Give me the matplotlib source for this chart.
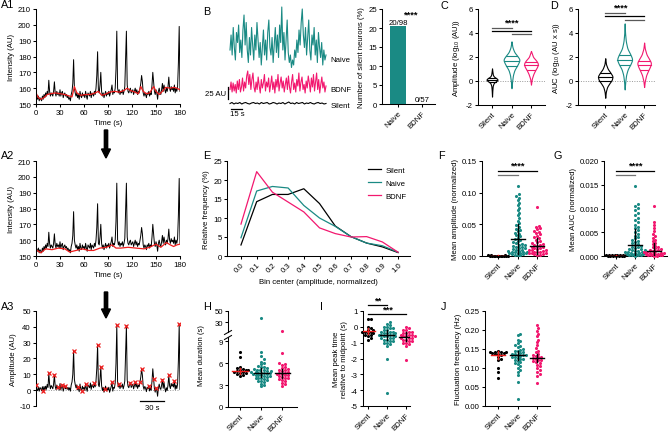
import numpy as np
import matplotlib
matplotlib.use("Agg")
import matplotlib.pyplot as plt
from matplotlib.patches import FancyArrow
from matplotlib.lines import Line2D
from matplotlib.transforms import IdentityTransform

FS = 5.6
plt.rcParams['font.family'] = ['Liberation Sans', 'DejaVu Sans']
plt.rcParams['mathtext.fontset'] = 'custom'
plt.rcParams['mathtext.rm'] = 'Liberation Sans'
plt.rcParams['axes.unicode_minus'] = False
plt.rcParams['font.size'] = FS
plt.rcParams['axes.linewidth'] = 0.75

TEAL = "#1a8a84"
PINK = "#f2186f"
RED = "#ee1c1c"

groups = ["Silent", "Naive", "BDNF"]
group_colors = ["black", TEAL, PINK]

# ---- A: example trace (1 sample / s) ----
trace_a = [157, 154, 153, 155, 152, 154, 153, 152, 155, 153,
           156, 154, 157, 155, 158, 156, 165, 158, 155, 157,
           156, 155, 158, 164, 157, 155, 158, 156, 157, 155,
           159, 155, 157, 158, 154, 156, 157, 155, 156, 154,
           155, 153, 154, 152, 156, 158, 163, 178, 160, 157,
           155, 157, 154, 156, 153, 158, 155, 154, 157, 155,
           156, 154, 158, 155, 153, 157, 156, 155, 158, 154,
           157, 156, 155, 158, 156, 160, 168, 183, 158, 157,
           162, 170, 158, 155, 157, 154, 156, 158, 155, 157,
           156, 158, 155, 157, 159, 162, 156, 158, 157, 160,
           172, 196, 160, 157, 159, 156, 158, 157, 159, 156,
           158, 161, 178, 196, 162, 158, 157, 159, 160, 157,
           158, 159, 156, 158, 160, 157, 159, 156, 158, 157,
           160, 163, 168, 164, 157, 155, 157, 156, 154, 157,
           156, 158, 155, 157, 156, 162, 170, 164, 158, 156,
           159, 157, 153, 158, 160, 157, 156, 159, 163, 158,
           162, 159, 157, 160, 158, 161, 167, 160, 158, 161,
           159, 160, 158, 162, 157, 160, 158, 161, 176, 199,
           158]
smooth_t = [0, 3, 6, 10, 14, 18, 24, 30, 36, 42, 45, 48, 51, 56, 62, 68, 74, 78, 82, 86,
            92, 98, 104, 110, 114, 118, 124, 128, 131, 134, 138, 142, 147, 150, 154, 158,
            162, 168, 172, 176, 180]
smooth_v = [157, 154, 153, 154, 156, 156.5, 157, 156.5, 156, 155, 154.5, 161, 157, 155.5,
            156, 156, 157, 158, 155.5, 156, 157.5, 158, 157.5, 158.5, 160, 158.5, 157.5,
            156.5, 161, 158, 156.5, 157, 161, 158, 156, 158, 160.5, 160, 160.5, 160, 159]
base_t = [0, 6, 12, 20, 28, 36, 42, 50, 58, 66, 72, 80, 88, 95, 100, 106, 115, 125, 135,
          142, 150, 156, 163, 168, 172, 176, 180]
base_v = [154, 152, 154.5, 154, 155, 154.5, 152.5, 153.5, 154.5, 153.5, 153.5, 155, 155.5,
          157, 155, 155, 155.5, 155, 154.5, 155.5, 157.5, 155.5, 158.5, 157, 156, 157, 157.5]
peak_t = [0, 9, 16, 23, 28, 33, 36, 47, 53, 57, 62, 73, 77, 81, 86, 95, 101, 104, 113,
          118, 124, 130, 132, 141, 147, 150, 158, 166, 173, 179]

# ---- B: example traces and silent fraction ----
trace_naive = [40, 70, 30, 85, 45, 20, 75, 55, 90, 35, 60, 25, 80, 110, 50, 95, 40, 15, 65, 30,
               85, 50, 20, 70, 40, 95, 60, 25, 55, 10, 45, 80, 30, 60, 20, 75, 100, 45, 30, 65,
               15, 50, 85, 35, 70, 25, 90, 55, 126, 40, 75, 20, 60, 100, 35, 15, 30, 5, 20, 10,
               40, 25, 60, 35, 80, 50, 95, 122, 70, 45, 85, 30, 65, 100, 40, 20, 70, 50, 85, 30,
               60, 15, 75, 45, 25, 55, 10, 40, 20, 30]
trace_bdnf = [15, 30, 10, 28, 12, 25, 8, 32, 15, 35, 10, 20, 38, 12, 30, 18, 42, 52, 25, 45,
              15, 35, 48, 20, 10, 30, 15, 40, 22, 8, 35, 18, 28, 45, 12, 30, 20, 38, 10, 25,
              42, 15, 30, 8, 35, 20, 45, 12, 28, 40, 18, 32, 10, 25, 38, 15, 42, 20, 8, 30,
              45, 15, 28, 10, 35, 22, 48, 12, 30, 40, 15, 25, 8, 32, 18, 42, 28, 10, 38, 20,
              45, 12, 30, 48, 15, 35, 8, 25, 40, 18, 30, 10, 22]
trace_silent = [1, 3, 0, 2, 1, 3, 0, 2, 3, 1, 0, 2, 3, 1, 2, 0, 3, 1, 2, 3, 0, 1, 3, 2, 0,
                2, 1, 3, 0, 2, 4, 1, 2, 0, 3, 1, 2, 3, 0, 2, 1, 3, 1, 0, 2, 3, 1, 2, 0, 1]
silent_pct = [20.4, 0.0]
silent_frac = ["20/98", "0/57"]

# ---- C, D: violin profiles (log10 values, relative density) ----
amp_y = [[-1.3, -0.8, -0.4, -0.15, 0.0, 0.1, 0.2, 0.35, 0.5, 0.8, 1.05],
         [-0.6, 0.0, 0.5, 0.9, 1.2, 1.5, 1.8, 2.1, 2.4, 2.8, 3.3],
         [-0.3, 0.2, 0.6, 0.9, 1.2, 1.45, 1.7, 2.0, 2.5]]
amp_w = [[0.0, 0.05, 0.12, 0.3, 0.75, 1.0, 0.85, 0.35, 0.15, 0.06, 0.0],
         [0.0, 0.08, 0.18, 0.35, 0.6, 0.85, 1.0, 0.7, 0.35, 0.12, 0.0],
         [0.0, 0.12, 0.35, 0.6, 0.9, 1.0, 0.75, 0.3, 0.0]]
amp_q = [[-0.05, 0.1, 0.25], [1.25, 1.7, 2.1], [0.9, 1.3, 1.6]]
auc_y = [[-1.4, -0.9, -0.5, -0.2, 0.1, 0.4, 0.7, 1.0, 1.4, 1.9],
         [-0.7, -0.1, 0.5, 1.0, 1.4, 1.8, 2.2, 2.7, 3.3, 4.0, 4.8],
         [-0.5, 0.0, 0.5, 0.9, 1.2, 1.5, 1.8, 2.2, 2.7, 3.2]]
auc_w = [[0.0, 0.08, 0.25, 0.55, 0.9, 1.0, 0.7, 0.35, 0.1, 0.0],
         [0.0, 0.07, 0.18, 0.4, 0.75, 1.0, 0.75, 0.35, 0.15, 0.05, 0.0],
         [0.0, 0.1, 0.3, 0.6, 0.85, 1.0, 0.75, 0.35, 0.1, 0.0]]
auc_q = [[0.0, 0.35, 0.7], [1.3, 1.75, 2.2], [0.9, 1.35, 1.7]]

# ---- E: amplitude histograms ----
bin_center = [0.0, 0.1, 0.2, 0.3, 0.4, 0.5, 0.6, 0.7, 0.8, 0.9, 1.0]
freq_silent = [2.9, 14.3, 16.2, 16.2, 17.7, 13.8, 7.9, 5.1, 3.4, 2.4, 0.9]
freq_naive = [4.8, 17.1, 18.3, 17.9, 13.3, 10.0, 7.8, 5.1, 3.4, 2.7, 1.0]
freq_bdnf = [8.4, 22.2, 16.8, 14.2, 11.6, 7.4, 5.9, 5.0, 5.1, 3.7, 1.0]

# ---- F: mean amplitude ----
f_silent = [0.0003, 0.0005, 0.0002, 0.0008, 0.0004, 0.0006, 0.0003, 0.0010, 0.0005, 0.0002,
            0.0007, 0.0004, 0.0006, 0.0009, 0.0003]
f_naive = [0.001, 0.002, 0.002, 0.003, 0.003, 0.004, 0.004, 0.005, 0.005, 0.006, 0.006, 0.007,
           0.007, 0.008, 0.008, 0.009, 0.010, 0.011, 0.012, 0.013, 0.014, 0.015, 0.016, 0.017,
           0.018, 0.019, 0.020, 0.022, 0.024, 0.025, 0.027, 0.029, 0.031, 0.033, 0.035, 0.037,
           0.039, 0.041, 0.043, 0.046, 0.049, 0.052, 0.056, 0.060, 0.064, 0.068, 0.072, 0.076,
           0.080, 0.084, 0.088, 0.092, 0.095, 0.098, 0.110]
f_bdnf = [0.001, 0.002, 0.003, 0.003, 0.004, 0.005, 0.005, 0.006, 0.007, 0.007, 0.008, 0.009,
          0.010, 0.010, 0.011, 0.012, 0.013, 0.014, 0.015, 0.016, 0.017, 0.018, 0.019, 0.020,
          0.022, 0.024, 0.026, 0.028, 0.030, 0.032, 0.034, 0.036, 0.038, 0.040, 0.042, 0.044,
          0.046, 0.048, 0.077]
f_mean = [0.0005, 0.027, 0.016]
f_sd = [0.0003, 0.024, 0.013]

# ---- G: mean AUC ----
g_silent = [0.00005, 0.0001, 0.00008, 0.00015, 0.00012, 0.0002, 0.0001, 0.00006, 0.00018,
            0.00009, 0.00025, 0.00011, 0.00007, 0.00014, 0.0003]
g_naive = [0.0001, 0.0002, 0.0002, 0.0003, 0.0003, 0.0004, 0.0004, 0.0005, 0.0005, 0.0006,
           0.0006, 0.0007, 0.0008, 0.0008, 0.0009, 0.0010, 0.0011, 0.0012, 0.0013, 0.0014,
           0.0015, 0.0016, 0.0018, 0.0019, 0.0021, 0.0023, 0.0025, 0.0027, 0.0029, 0.0031,
           0.0034, 0.0037, 0.0040, 0.0043, 0.0046, 0.0050, 0.0054, 0.0058, 0.0062, 0.0066,
           0.0071, 0.0076, 0.0081, 0.0086, 0.0091, 0.0096, 0.0101, 0.0106, 0.0110, 0.0148]
g_bdnf = [0.0001, 0.0001, 0.0002, 0.0002, 0.0003, 0.0003, 0.0004, 0.0004, 0.0005, 0.0005,
          0.0006, 0.0007, 0.0007, 0.0008, 0.0009, 0.0010, 0.0011, 0.0012, 0.0013, 0.0014,
          0.0016, 0.0018, 0.0020, 0.0022, 0.0025, 0.0028, 0.0031, 0.0034, 0.0038, 0.0042,
          0.0046, 0.0052, 0.0058, 0.0065, 0.0072, 0.0105]
g_mean = [0.0001, 0.00225, 0.0011]
g_sd = [0.00008, 0.0034, 0.0017]

# ---- H: mean duration ----
h_silent = [4.2, 4.4, 4.5, 4.6, 4.7, 4.8, 4.8, 4.9, 5.0, 5.0, 5.1, 5.2, 5.3, 5.5, 6.8, 7.5]
h_naive = [2.8, 3.0, 3.2, 3.4, 3.5, 3.6, 3.7, 3.8, 3.9, 4.0, 4.0, 4.1, 4.2, 4.2, 4.3, 4.4,
           4.4, 4.5, 4.5, 4.6, 4.6, 4.7, 4.7, 4.8, 4.8, 4.9, 4.9, 5.0, 5.0, 5.1, 5.2, 5.3,
           5.4, 5.5, 5.6, 5.8, 6.0, 6.2, 6.5, 6.9, 7.5, 37.0]
h_bdnf = [2.9, 3.1, 3.3, 3.5, 3.7, 3.8, 3.9, 4.0, 4.1, 4.2, 4.3, 4.4, 4.5, 4.5, 4.6, 4.7,
          4.8, 4.9, 5.0, 5.1, 5.2, 5.3, 5.5, 5.7, 5.9, 6.0, 7.3, 15.0]
h_mean = [4.9, 4.7, 4.6]
h_sd = [0.4, 0.6, 0.6]

# ---- I: peak time relative to midpoint ----
i_silent = [0.5, 0.5, 0.0, -0.1, -0.2, -0.2, -0.3, -0.3, -0.3, -0.4, -0.4, -0.5, -0.5,
            -0.6, -0.7, -0.8]
i_naive = [0.3, 0.2, 0.1, 0.0, 0.0, -0.1, -0.1, -0.2, -0.2, -0.3, -0.3, -0.3, -0.4, -0.4,
           -0.4, -0.5, -0.5, -0.5, -0.5, -0.6, -0.6, -0.6, -0.7, -0.7, -0.7, -0.8, -0.8,
           -0.9, -0.9, -1.0, -1.0, -1.1, -1.2, -2.0, -4.2]
i_bdnf = [0.0, -0.1, -0.2, -0.2, -0.3, -0.3, -0.4, -0.4, -0.5, -0.5, -0.5, -0.6, -0.6, -0.6,
          -0.7, -0.7, -0.7, -0.8, -0.8, -0.9, -0.9, -1.0, -1.0, -1.1, -1.2, -2.1]
i_mean = [-0.28, -0.5, -0.62]
i_sd = [0.2, 0.3, 0.3]

# ---- J: fluctuation frequency ----
j_silent = [0.145, 0.143, 0.142, 0.141, 0.140, 0.139, 0.138, 0.136, 0.134, 0.130, 0.125,
            0.120, 0.100, 0.090, 0.075, 0.143]
j_naive = [0.190, 0.188, 0.175, 0.170, 0.165, 0.160, 0.157, 0.154, 0.150, 0.148, 0.146,
           0.144, 0.142, 0.140, 0.138, 0.137, 0.135, 0.134, 0.133, 0.132, 0.130, 0.128,
           0.127, 0.125, 0.123, 0.120, 0.118, 0.115, 0.112, 0.110, 0.105, 0.100, 0.095,
           0.090, 0.082, 0.063, 0.018]
j_bdnf = [0.213, 0.205, 0.198, 0.190, 0.183, 0.175, 0.168, 0.160, 0.152, 0.146, 0.142,
          0.138, 0.135, 0.132, 0.130, 0.128, 0.126, 0.124, 0.122, 0.120, 0.118, 0.115,
          0.112, 0.108, 0.104, 0.100, 0.095, 0.090, 0.085, 0.080, 0.060]
j_mean = [0.135, 0.133, 0.127]
j_sd = [0.01, 0.012, 0.01]


W, H = 669, 435
fig = plt.figure(figsize=(W / 100, H / 100), dpi=100)


def px_axes(x0, y0, x1, y1):
    return fig.add_axes([x0 / W, 1 - y1 / H, (x1 - x0) / W, (y1 - y0) / H])


def style(ax):
    for s in ['top', 'right']:
        ax.spines[s].set_visible(False)
    ax.tick_params(length=2.2, width=0.75, pad=1.5, labelsize=FS)


def cat_axis(ax, labels):
    ax.set_xticks(range(len(labels)))
    ax.set_xticklabels(labels, rotation=45, ha='right', rotation_mode='anchor')


def letter(x, y, s):
    fig.text(x / W, 1 - y / H, s, fontsize=7.8, ha='left', va='center')


def swarm_offsets(vals, ypx, d=2.8, maxw=10.0):
    y = np.asarray(vals, dtype=float) * ypx
    steps = [0.0]
    k = 1
    while k * d * 0.5 <= maxw:
        steps += [k * d * 0.5, -k * d * 0.5]
        k += 1
    xs = np.zeros(len(y))
    px, py = [], []
    for i in np.argsort(y):
        best, best_gap = 0.0, -1.0
        for c in steps:
            gap = np.inf if not px else np.min((np.array(px) - c) ** 2 + (np.array(py) - y[i]) ** 2)
            if gap >= d * d:
                best = c
                break
            if gap > best_gap:
                best_gap, best = gap, c
        xs[i] = best
        px.append(best)
        py.append(y[i])
    return xs


def dots(ax, xc, vals, color, ypx, xpx, maxw=10.0):
    off = swarm_offsets(vals, ypx, maxw=maxw) / xpx
    ax.scatter(xc + off, vals, s=5, color=color, lw=0, zorder=3, clip_on=False)


def cross(ax, xc, m, sd, color, hw=0.36):
    ax.plot([xc - hw, xc + hw], [m, m], color=color, lw=1.0, zorder=5)
    ax.plot([xc, xc], [m - sd, m + sd], color=color, lw=1.0, zorder=5)


def violin(ax, xc, ys, ws, half, lines, color):
    yy = np.linspace(ys[0], ys[-1], 200)
    ww = np.interp(yy, ys, ws)
    ww = np.convolve(np.pad(ww, 6, mode='edge'), np.ones(13) / 13, mode='valid') * half
    ax.fill_betweenx(yy, xc - ww, xc + ww, facecolor='white', edgecolor=color, lw=0.8, zorder=3)
    for q in lines:
        w = np.interp(q, yy, ww)
        ax.plot([xc - w, xc + w], [q, q], color=color, lw=0.8, zorder=4)


def sig_line(ax, x0, x1, y, color='black'):
    ax.plot([x0, x1], [y, y], color=color, lw=0.9, clip_on=False)


def stars(ax, x, y, s):
    ax.text(x, y, s, ha='center', va='bottom', fontsize=6.8, fontweight='bold', clip_on=False)


def arrow(x, y0, y1):
    fig.add_artist(FancyArrow(x, H - y0, 0, -(y1 - y0), width=3.3, head_width=9, head_length=9,
                              length_includes_head=True, color='black', transform=IdentityTransform()))


time_a = np.arange(len(trace_a))
amp_a = np.array(trace_a) - np.interp(time_a, base_t, base_v)

# A1
ax = px_axes(36, 10, 180, 105)
style(ax)
ax.plot(time_a, trace_a, color='black', lw=0.7)
ax.plot(smooth_t, smooth_v, color=RED, lw=0.9)
ax.set_xlim(0, 180)
ax.set_ylim(150, 210)
ax.set_xticks(range(0, 181, 30))
ax.set_yticks(range(150, 211, 10))
ax.set_xlabel("Time (s)", labelpad=2)
ax.set_ylabel("Intensity (AU)", labelpad=2)
letter(1, 5, "A1")

# A2
ax = px_axes(36, 162, 180, 257)
style(ax)
ax.plot(time_a, trace_a, color='black', lw=0.7)
ax.plot(base_t, base_v, color=RED, lw=0.9)
ax.set_xlim(0, 180)
ax.set_ylim(150, 210)
ax.set_xticks(range(0, 181, 30))
ax.set_yticks(range(150, 211, 10))
ax.set_xlabel("Time (s)", labelpad=2)
ax.set_ylabel("Intensity (AU)", labelpad=2)
letter(1, 156, "A2")

# A3
ax = px_axes(36, 312, 180, 407)
style(ax)
ax.spines['bottom'].set_visible(False)
ax.set_xticks([])
ax.axhline(0, color='0.6', lw=0.7, ls=(0, (1, 1.5)))
ax.plot(time_a, amp_a, color='black', lw=0.7)
ax.plot(peak_t, amp_a[peak_t], 'x', color=RED, ms=3, mew=0.9, zorder=4)
ax.set_xlim(0, 180)
ax.set_ylim(-10, 50)
ax.set_yticks(range(-10, 51, 10))
ax.set_ylabel("Amplitude (AU)", labelpad=2)
ax.plot([130, 160], [-7, -7], color='black', lw=0.9, clip_on=False)
ax.text(145, -9, "30 s", ha='center', va='top', fontsize=FS)
letter(1, 307, "A3")

arrow(106, 131, 159)
arrow(106, 293, 319)

# B traces
ax = px_axes(226, 4, 330, 112)
ax.axis('off')
ax.set_xlim(-5.5, 137.5)
ax.set_ylim(-14, 202)
ax.plot(np.linspace(0, 132, len(trace_naive)), np.array(trace_naive) + 68, color=TEAL, lw=0.8)
ax.plot(np.linspace(0, 132, len(trace_bdnf)), np.array(trace_bdnf) + 14, color=PINK, lw=0.8)
ax.plot(np.linspace(0, 132, len(trace_silent)), np.array(trace_silent), color='black', lw=0.8)
ax.text(138, 90, "Naive", va='center', fontsize=FS, clip_on=False)
ax.text(138, 30, "BDNF", va='center', fontsize=FS, clip_on=False)
ax.text(138, -2, "Silent", va='center', fontsize=FS, clip_on=False)
ax.plot([-3, -3], [10, 35], color='black', lw=0.9, clip_on=False)
ax.text(-5.5, 22, "25 AU", ha='right', va='center', fontsize=FS)
ax.plot([2, 17], [-9, -9], color='black', lw=0.9, clip_on=False)
ax.text(9.5, -12, "15 s", ha='center', va='top', fontsize=FS)
letter(203, 12, "B")

# B bar
ax = px_axes(382, 10, 435, 105)
style(ax)
ax.bar([0, 1], silent_pct, width=0.7, color=TEAL)
for i, (p, s) in enumerate(zip(silent_pct, silent_frac)):
    ax.text(i, p + 0.2, s, ha='center', va='bottom', fontsize=FS)
stars(ax, 0.5, 22.6, "****")
ax.set_xlim(-0.67, 1.54)
ax.set_ylim(0, 25)
ax.set_yticks(range(0, 26, 5))
cat_axis(ax, ["Naive", "BDNF"])
ax.set_ylabel("Number of silent neurons (%)", labelpad=2)

# C violin
ax = px_axes(478, 10, 545, 106)
style(ax)
ax.axhline(0, color='0.6', lw=0.7, ls=(0, (1, 1.5)))
for i in range(3):
    violin(ax, i, amp_y[i], amp_w[i], [0.3, 0.42, 0.36][i], amp_q[i], group_colors[i])
ax.set_xlim(-0.72, 2.72)
ax.set_ylim(-2, 6)
ax.set_yticks(range(-2, 7, 2))
cat_axis(ax, groups)
ax.set_ylabel("Amplitude (log$_{10}$ (AU))", labelpad=3)
sig_line(ax, 0, 1, 4.4, '0.35')
sig_line(ax, 0, 2, 4.15)
sig_line(ax, 1, 2, 3.9, '0.35')
stars(ax, 1, 4.55, "****")
letter(440, 6, "C")

# D violin
ax = px_axes(578, 10, 655, 106)
style(ax)
ax.axhline(0, color='0.6', lw=0.7, ls=(0, (1, 1.5)))
for i in range(3):
    violin(ax, i, auc_y[i], auc_w[i], [0.38, 0.4, 0.36][i], auc_q[i], group_colors[i])
ax.set_xlim(-1.4, 2.56)
ax.set_ylim(-2, 6)
ax.set_yticks(range(-2, 7, 2))
cat_axis(ax, groups)
ax.set_ylabel("AUC (log$_{10}$ (AU x s))", labelpad=3)
sig_line(ax, 0, 1, 5.65, '0.35')
sig_line(ax, 0, 2, 5.42)
sig_line(ax, 1, 2, 5.1, '0.35')
stars(ax, 0.75, 5.75, "****")
letter(550, 6, "D")

# E histogram
ax = px_axes(227, 162, 410, 257)
style(ax)
ax.plot(bin_center, freq_silent, color='black', lw=0.9, label="Silent")
ax.plot(bin_center, freq_naive, color=TEAL, lw=0.9, label="Naive")
ax.plot(bin_center, freq_bdnf, color=PINK, lw=0.9, label="BDNF")
ax.set_xlim(-0.089, 1.076)
ax.set_ylim(0, 25)
ax.set_yticks(range(0, 26, 5))
ax.set_xticks(bin_center)
ax.set_xticklabels([f"{b:.1f}" for b in bin_center], rotation=45, ha='right', rotation_mode='anchor')
ax.set_xlabel("Bin center (amplitude, normalized)", labelpad=3)
ax.set_ylabel("Relative frequency (%)", labelpad=2)
ax.legend(loc='upper left', bbox_to_anchor=(0.74, 1.0), frameon=False, fontsize=FS,
          handlelength=1.7, labelspacing=0.7, handletextpad=0.6, borderaxespad=0.3)
letter(203, 156, "E")


def scatter_panel(rect, lims, ticks, fmt, xl, data, means, sds, ylabel, letter_pos, name, maxw=10.0):
    x0, y0, x1, y1 = rect
    ax = px_axes(x0, y0, x1, y1)
    style(ax)
    ax.set_xlim(*xl)
    ax.set_ylim(*lims)
    ypx = (y1 - y0) / (lims[1] - lims[0])
    xpx = (x1 - x0) / (xl[1] - xl[0])
    for i, vals in enumerate(data):
        dots(ax, i, vals, group_colors[i], ypx, xpx, maxw)
        cross(ax, i, means[i], sds[i], RED if i == 0 else 'black')
    ax.set_yticks(ticks)
    ax.set_yticklabels([fmt.format(t) for t in ticks])
    cat_axis(ax, groups)
    ax.set_ylabel(ylabel, labelpad=2)
    letter(letter_pos[0], letter_pos[1], name)
    return ax


# F
ax = scatter_panel((482, 162, 547, 257), (0, 0.15), [0, 0.05, 0.10, 0.15], "{:.2f}", (-0.82, 2.5),
                   [f_silent, f_naive, f_bdnf], f_mean, f_sd, "Mean amplitude (normalized)", (438, 156), "F")
sig_line(ax, 0, 2, 0.134)
sig_line(ax, 0, 1, 0.128, '0.45')
stars(ax, 1, 0.1365, "****")

# G
ax = scatter_panel((604, 162, 667, 257), (0, 0.02), [0, 0.005, 0.010, 0.015, 0.020], "{:.3f}", (-0.63, 2.68),
                   [g_silent, g_naive, g_bdnf], g_mean, g_sd, "Mean AUC (normalized)", (553, 156), "G")
sig_line(ax, 0, 2, 0.0179)
sig_line(ax, 0, 1, 0.0171, '0.45')
stars(ax, 1, 0.0182, "****")

# H (broken axis)
h_data = [h_silent, h_naive, h_bdnf]
ax = px_axes(228, 338, 297, 408)
style(ax)
xl = (-0.57, 2.7)
ax.set_xlim(*xl)
ax.set_ylim(0, 9.55)
ypx = 70 / 9.55
xpx = 69 / (xl[1] - xl[0])
for i, vals in enumerate(h_data):
    low = [v for v in vals if v <= 9.5]
    dots(ax, i, low, group_colors[i], ypx, xpx)
    cross(ax, i, h_mean[i], h_sd[i], RED if i == 0 else 'black')
ax.set_yticks([0, 3, 6, 9])
cat_axis(ax, groups)
ax.set_ylabel("Mean duration (s)", labelpad=2)
ax.yaxis.set_label_coords(-0.33, 0.75)
axu = px_axes(228, 312, 297, 333)
style(axu)
axu.spines['bottom'].set_visible(False)
axu.set_xticks([])
axu.set_xlim(*xl)
axu.set_ylim(13, 50)
axu.set_yticks([30, 50])
for i, vals in enumerate(h_data):
    high = [v for v in vals if v > 9.5]
    axu.scatter([i] * len(high), high, s=5, color=group_colors[i], lw=0, zorder=3, clip_on=False)
for yb in (333.5, 338.5):
    fig.add_artist(Line2D([224.5, 231.5], [H - yb - 2, H - yb + 2], color='black', lw=0.75,
                          transform=IdentityTransform()))
letter(203, 307, "H")

# I
ax = scatter_panel((363, 312, 410, 407), (-5, 1), [-5, -4, -3, -2, -1, 0, 1], "{:d}", (-0.25, 2.2),
                   [i_silent, i_naive, i_bdnf], i_mean, i_sd, "Mean peak time\nrelative to midpoint (s)",
                   (320, 307), "I", maxw=9.0)
sig_line(ax, 0, 1, 1.38)
sig_line(ax, 0, 2, 0.81)
stars(ax, 0.5, 1.42, "**")
stars(ax, 1.0, 0.85, "***")

# J
ax = scatter_panel((485, 312, 550, 407), (0, 0.25), [0, 0.05, 0.10, 0.15, 0.20, 0.25], "{:.2f}", (-0.67, 2.67),
                   [j_silent, j_naive, j_bdnf], j_mean, j_sd, "Fluctuation frequency (Hz)", (441, 307), "J")

fig.savefig("out.png", dpi=100)
